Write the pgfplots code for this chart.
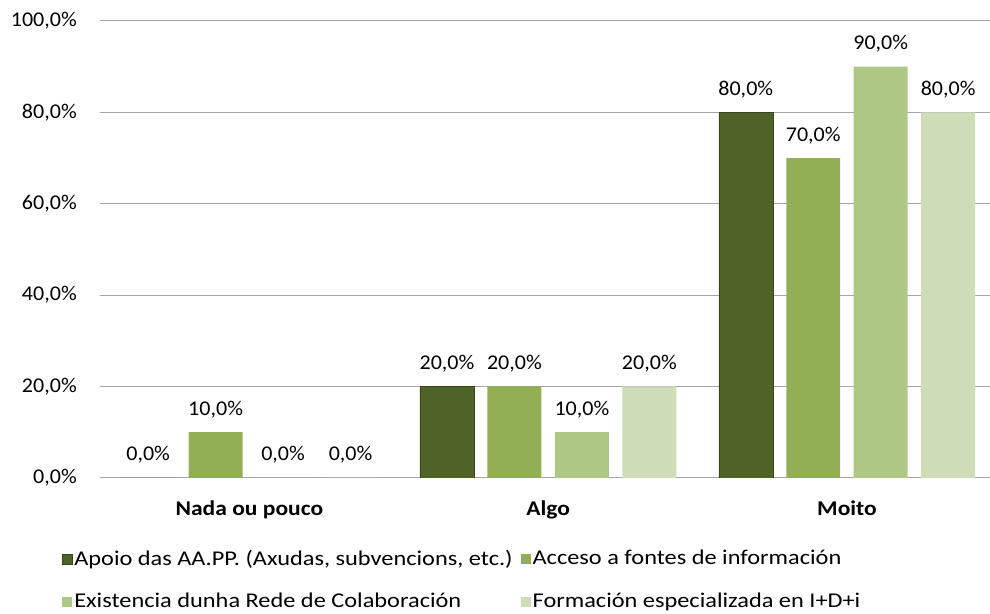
\documentclass[border=0pt]{standalone}
\usepackage{pgfplots}
\pgfplotsset{compat=1.18}
\usepackage{fontspec}
\setmainfont{Carlito}[FakeStretch=1.05, BoldFeatures={FakeStretch=1.12}]
\newfontfamily\legfont{Carlito}[FakeStretch=1.16]
\definecolor{c1}{HTML}{4F6228}
\definecolor{c2}{HTML}{93AF55}
\definecolor{c3}{HTML}{AFC785}
\definecolor{c4}{HTML}{CFDCB8}
\definecolor{gridc}{HTML}{A6A6A6}
\begin{document}
\fontsize{21}{25}\selectfont
\begin{tikzpicture}
\begin{axis}[
  at={(0,0)}, anchor=south west,
  scale only axis,
  width=890pt, height=457pt,
  xmin=-0.5, xmax=2.477,
  ymin=0, ymax=100,
  ybar=13.5pt, bar width=54pt,
  xtick={0,1,2},
  xticklabels={Nada ou pouco, Algo, Moito},
  xticklabel style={font=\fontsize{21}{25}\selectfont\bfseries, yshift=-16pt},
  ytick={0,20,40,60,80,100},
  yticklabel={\pgfmathprintnumber[fixed,fixed zerofill,precision=1,use comma]{\tick}\%},
  yticklabel style={font=\fontsize{21}{25}\selectfont, xshift=-16pt},
  /pgf/number format/assume math mode=true,
  major tick length=0pt,
  tick style={draw=none},
  ymajorgrids,
  grid style={draw=gridc, line width=1pt},
  axis x line*=bottom,
  axis y line*=left,
  x axis line style={-, draw=gridc, line width=1pt},
  y axis line style={draw=none},
  nodes near coords={\pgfmathprintnumber[fixed,fixed zerofill,precision=1,use comma]{\pgfplotspointmeta}\%},
  every node near coord/.append style={font=\fontsize{21}{25}\selectfont, yshift=7pt, text=black},
  legend columns=2,
  legend cell align=left,
  legend style={at={(-0.043,-0.153)}, anchor=north west, draw=none, fill=none,
    font=\legfont\fontsize{21}{25}\selectfont,
    /tikz/every even column/.append style={column sep=6pt},
    row sep=21pt, inner sep=0pt},
  legend image code/.code={\fill[#1] (0pt,-5pt) rectangle (10pt,5pt);},
]
\addplot[fill=c1, draw=c1!70!black] coordinates {(0,0) (1,20) (2,80)};
\addplot[fill=c2, draw=none] coordinates {(0,10) (1,20) (2,70)};
\addplot[fill=c3, draw=none] coordinates {(0,0) (1,10) (2,90)};
\addplot[fill=c4, draw=none] coordinates {(0,0) (1,20) (2,80)};
\legend{{Apoio das AA.PP. (Axudas, subvencions, etc.)}, {Acceso a fontes de información}, {Existencia dunha Rede de Colaboración}, {Formación especializada en I+D+i}}
\end{axis}
\path[use as bounding box] (-100pt,-132pt) rectangle (890pt,478pt);
\end{tikzpicture}
\end{document}
